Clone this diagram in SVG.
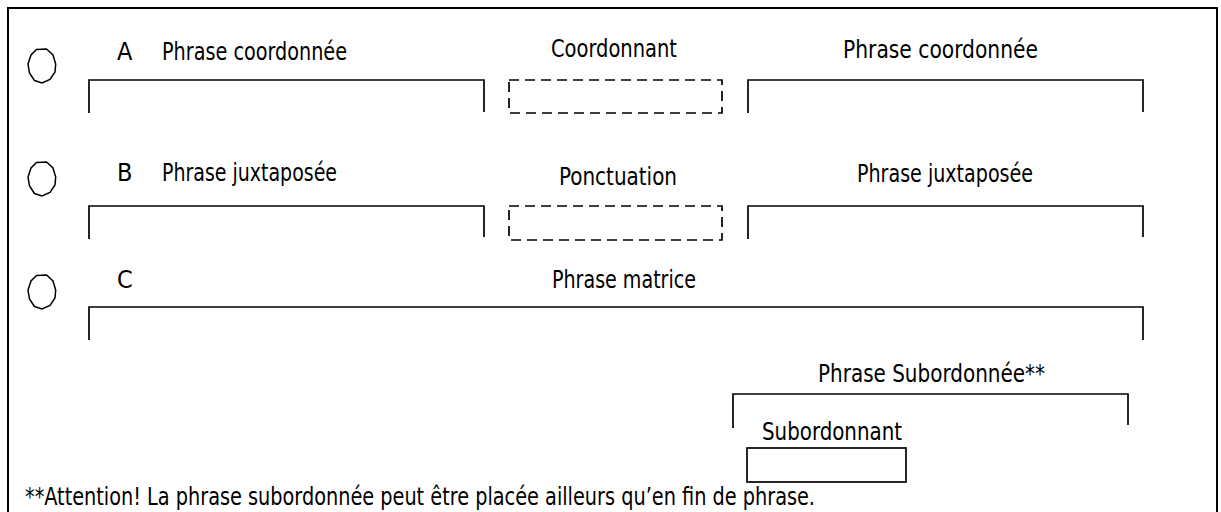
<svg xmlns="http://www.w3.org/2000/svg" width="1221" height="512" viewBox="0 0 1221 512">
<style>
  .t { font-family: "Liberation Sans Narrow", "DejaVu Sans Condensed", "Liberation Sans", sans-serif; font-size: 25px; fill: #000; }
  .fn { font-size: 24px; }
  .ln { fill: none; stroke: #000; stroke-width: 1.7; }
  .dash { fill: none; stroke: #000; stroke-width: 1.7; stroke-dasharray: 10 6; }
  .circ { fill: #fff; stroke: #000; stroke-width: 1.5; }
</style>
<defs>
  <polygon id="oct" points="-5.5,-16.5 4.5,-17 11,-11 13.7,-2 13,6 8,13.5 0,17 -7.5,14.5 -12.5,7 -14,-2 -11,-11"/>
</defs>
<rect x="8" y="8" width="1209" height="530" fill="#fff" stroke="#000" stroke-width="2"/>

<g id="rowA">
  <use href="#oct" class="circ" x="42" y="66"/>
  <text class="t" x="117" y="60">A</text>
  <text class="t" x="162" y="60" textLength="185" lengthAdjust="spacingAndGlyphs">Phrase coordonnée</text>
  <text class="t" x="551" y="57" textLength="126" lengthAdjust="spacingAndGlyphs">Coordonnant</text>
  <text class="t" x="843" y="58" textLength="195" lengthAdjust="spacingAndGlyphs">Phrase coordonnée</text>
</g>
<g id="rowB">
  <use href="#oct" class="circ" x="42" y="179"/>
  <text class="t" x="117" y="181">B</text>
  <text class="t" x="162" y="181" textLength="175" lengthAdjust="spacingAndGlyphs">Phrase juxtaposée</text>
  <text class="t" x="559" y="185" textLength="118" lengthAdjust="spacingAndGlyphs">Ponctuation</text>
  <text class="t" x="857" y="182" textLength="176" lengthAdjust="spacingAndGlyphs">Phrase juxtaposée</text>
</g>
<g id="rowC">
  <use href="#oct" class="circ" x="42" y="292"/>
  <text class="t" x="117" y="288">C</text>
  <text class="t" x="552" y="288" textLength="144" lengthAdjust="spacingAndGlyphs">Phrase matrice</text>
  <text class="t" x="818" y="382" textLength="227" lengthAdjust="spacingAndGlyphs">Phrase Subordonnée**</text>
  <text class="t" x="762" y="440" textLength="140" lengthAdjust="spacingAndGlyphs">Subordonnant</text>
</g>

<g id="connectors">
  <path class="ln" d="M89,113 V80 H484 V112"/>
  <rect class="dash" x="509" y="80" width="213" height="33"/>
  <path class="ln" d="M748,113 V80 H1143 V112"/>
  <path class="ln" d="M89,239 V206 H484 V237"/>
  <rect class="dash" x="509" y="206" width="213" height="34"/>
  <path class="ln" d="M748,239 V206 H1143 V237"/>
  <path class="ln" d="M89,340 V307 H1143 V340"/>
  <path class="ln" d="M733,428 V394 H1128 V425"/>
  <rect class="ln" x="747" y="448" width="159" height="34"/>
</g>

<g id="footnote">
  <text class="t fn" x="25" y="505" textLength="790" lengthAdjust="spacingAndGlyphs">**Attention!  La phrase subordonnée peut être placée ailleurs qu’en fin de phrase.</text>
</g>
</svg>
